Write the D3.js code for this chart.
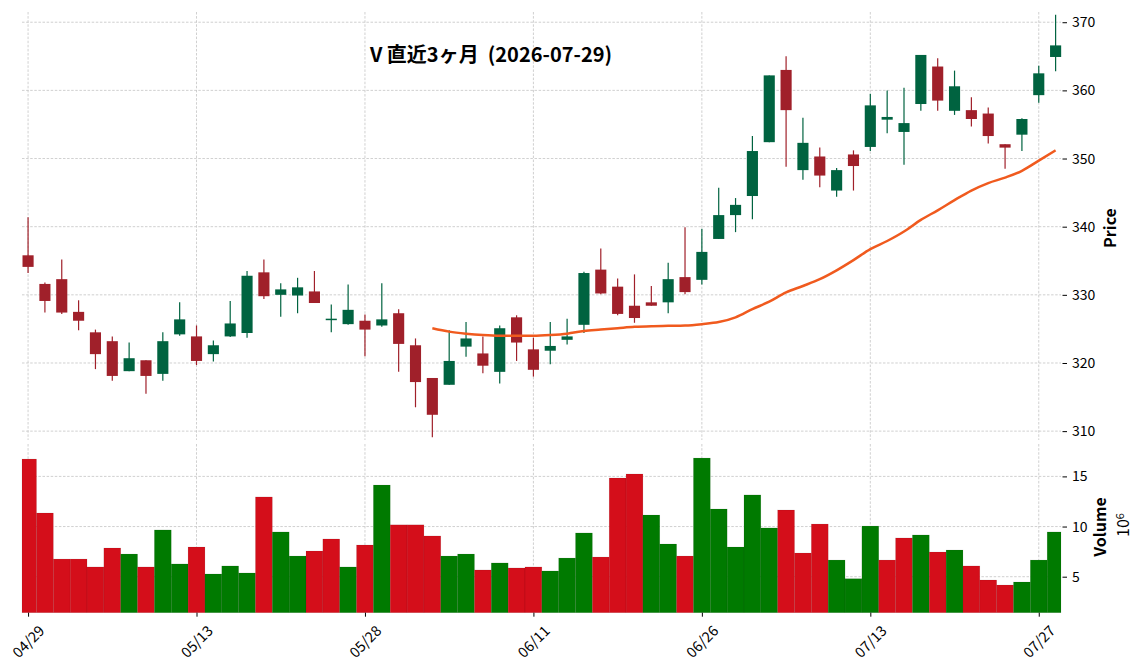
<!DOCTYPE html>
<html>
<head>
<meta charset="utf-8">
<script src="https://cdn.jsdelivr.net/npm/d3@7"></script>
<style>
    body { margin: 0; background: #fff; }
    text { font-family: "Noto Sans CJK JP", "Noto Sans", sans-serif; fill: #000; }
    .grid line { stroke: #c4c4c4; stroke-width: 0.8; stroke-dasharray: 2.5, 1.6; }
    .axis path.domain { display: none; }
    .axis line { stroke: #000; stroke-width: 1; }
    .title { white-space: pre; }
</style>
</head>
<body>
<div class="container"></div>
<script>
// trading days shown on the chart
var dates = ["04/29", "04/30", "05/01", "05/04", "05/05", "05/06", "05/07", "05/08", "05/11", "05/12",
    "05/13", "05/14", "05/15", "05/18", "05/19", "05/20", "05/21", "05/22", "05/26", "05/27",
    "05/28", "05/29", "06/01", "06/02", "06/03", "06/04", "06/05", "06/08", "06/09", "06/10",
    "06/11", "06/12", "06/15", "06/16", "06/17", "06/18", "06/22", "06/23", "06/24", "06/25",
    "06/26", "06/29", "06/30", "07/01", "07/02", "07/06", "07/07", "07/08", "07/09", "07/10",
    "07/13", "07/14", "07/15", "07/16", "07/17", "07/20", "07/21", "07/22", "07/23", "07/24",
    "07/27", "07/28"];

var opens = [335.8, 331.6, 332.3, 327.5, 324.5, 323.2, 318.8, 320.4, 318.4, 324.2,
    323.9, 321.3, 323.9, 324.4, 333.3, 330.0, 329.9, 330.5, 326.4, 325.7,
    326.2, 325.5, 327.3, 322.6, 317.8, 316.8, 322.4, 321.4, 318.7, 326.7,
    322.0, 321.8, 323.4, 325.6, 333.7, 331.2, 328.4, 328.9, 328.9, 332.6,
    332.2, 338.2, 341.7, 344.5, 352.4, 363.0, 348.3, 350.3, 345.3, 350.6,
    351.7, 355.7, 353.9, 358.0, 363.5, 357.0, 357.1, 356.6, 352.1, 353.5,
    359.3, 364.9];
var highs = [341.4, 331.8, 335.2, 329.2, 324.9, 323.9, 323.0, 320.4, 324.5, 328.9,
    325.5, 323.3, 329.1, 333.5, 335.2, 331.7, 332.5, 333.5, 328.6, 331.5,
    327.1, 331.7, 327.9, 323.6, 317.8, 324.8, 326.0, 323.9, 325.5, 327.0,
    323.7, 326.0, 326.5, 333.4, 336.8, 332.4, 333.0, 331.3, 334.7, 339.9,
    339.7, 345.7, 344.2, 353.3, 362.2, 365.0, 356.0, 351.6, 348.6, 351.2,
    359.5, 360.0, 360.4, 365.2, 364.7, 362.9, 359.0, 357.5, 352.1, 355.9,
    363.6, 371.1];
var lows = [333.2, 327.4, 327.2, 324.8, 319.1, 317.4, 318.8, 315.5, 317.4, 324.0,
    319.7, 320.2, 323.8, 323.7, 329.4, 326.8, 327.3, 328.8, 324.5, 325.6,
    321.0, 325.3, 318.7, 313.5, 309.1, 316.8, 320.9, 318.5, 317.0, 320.3,
    318.0, 319.8, 322.7, 324.4, 330.1, 327.0, 325.9, 328.4, 327.3, 330.1,
    331.5, 338.2, 339.2, 341.1, 352.4, 348.8, 346.9, 345.8, 344.4, 345.3,
    351.1, 353.7, 349.1, 357.0, 357.0, 356.4, 354.7, 352.2, 348.5, 351.1,
    358.2, 362.8];
var closes = [334.1, 329.1, 327.4, 326.2, 321.3, 318.1, 320.7, 318.1, 323.2, 326.4,
    320.3, 322.6, 325.8, 332.8, 329.8, 330.8, 331.1, 328.8, 326.5, 327.8,
    324.9, 326.4, 322.8, 317.2, 312.4, 320.3, 323.6, 319.6, 325.1, 323.0,
    319.0, 322.5, 323.9, 333.2, 330.2, 327.2, 326.6, 328.4, 332.3, 330.4,
    336.3, 341.7, 343.2, 351.1, 362.2, 357.1, 352.3, 347.5, 348.3, 348.9,
    357.8, 356.1, 355.2, 365.2, 358.5, 360.6, 355.8, 353.3, 351.6, 355.8,
    362.5, 366.6];
// volume in millions
var volumes = [16.73, 11.35, 6.76, 6.76, 5.97, 7.86, 7.26, 5.97, 9.66, 6.27,
    7.96, 5.27, 6.07, 5.37, 12.95, 9.46, 7.06, 7.56, 8.76, 5.97,
    8.16, 14.14, 10.17, 10.17, 9.06, 7.06, 7.26, 5.67, 6.37, 5.87,
    5.97, 5.57, 6.86, 9.36, 6.96, 14.84, 15.24, 11.15, 8.26, 7.06,
    16.83, 11.75, 7.96, 13.15, 9.86, 11.65, 7.36, 10.25, 6.66, 4.80,
    10.05, 6.66, 8.86, 9.16, 7.46, 7.66, 6.07, 4.67, 4.17, 4.47,
    6.66, 9.46];
// 25 day moving average as drawn (starts at the 25th bar)
var ma25 = [null, null, null, null, null, null, null, null, null, null,
    null, null, null, null, null, null, null, null, null, null,
    null, null, null, null, 325.1, 324.6, 324.3, 324.1, 324.0, 324.0,
    324.0, 324.1, 324.3, 324.7, 324.9, 325.1, 325.3, 325.4, 325.45, 325.5,
    325.7, 326.0, 326.7, 327.9, 329.0, 330.35, 331.3, 332.3, 333.6, 335.1,
    336.7, 337.9, 339.3, 341.0, 342.4, 343.9, 345.3, 346.4, 347.2, 348.2,
    349.7, 351.2];

var priceTicks = [310, 320, 330, 340, 350, 360, 370];
var volumeTicks = [5, 10, 15];
var dateTicks = [0, 10, 20, 30, 40, 50, 60];

var title = "V 直近3ヶ月  (2026-07-29)";

function drawChart() {
    var width = 1144, height = 670;
    var left = 22, right = 1061;
    var priceTop = 12, priceBottom = 440;
    var volTop = 444, volBottom = 612.7;

    var upCandle = "#006340", downCandle = "#a0202a";
    var upVol = "#007a00", downVol = "#d40e1a";

    var svg = d3.select(".container").append("svg")
        .attr("width", width)
        .attr("height", height);

    var x = d3.scaleLinear().domain([-0.36, 61.32]).range([left, right]);
    var step = x(1) - x(0);

    var y = d3.scaleLinear().domain([308.7, 371.5]).range([priceBottom, priceTop]);
    var yVol = d3.scaleLinear().domain([1.41, 18.23]).range([volBottom, volTop]);

    // grid lines
    var grid = svg.append("g").attr("class", "grid");
    grid.selectAll(".hp").data(priceTicks).enter().append("line")
        .attr("x1", left).attr("x2", right)
        .attr("y1", function (d) { return y(d); })
        .attr("y2", function (d) { return y(d); });
    grid.selectAll(".hv").data(volumeTicks).enter().append("line")
        .attr("x1", left).attr("x2", right)
        .attr("y1", function (d) { return yVol(d); })
        .attr("y2", function (d) { return yVol(d); });
    grid.selectAll(".vp").data(dateTicks).enter().append("line")
        .attr("x1", function (d) { return x(d); })
        .attr("x2", function (d) { return x(d); })
        .attr("y1", priceTop).attr("y2", priceBottom);
    grid.selectAll(".vv").data(dateTicks).enter().append("line")
        .attr("x1", function (d) { return x(d); })
        .attr("x2", function (d) { return x(d); })
        .attr("y1", volTop).attr("y2", volBottom);

    // volume bars, coloured by close versus previous close
    svg.append("g")
        .selectAll("rect")
        .data(volumes)
        .enter()
        .append("rect")
        .attr("x", function (d, i) { return Math.max(left, x(i) - step / 2); })
        .attr("width", function (d, i) {
            var x0 = Math.max(left, x(i) - step / 2), x1 = Math.min(right, x(i) + step / 2);
            return x1 - x0;
        })
        .attr("y", function (d) { return yVol(d); })
        .attr("height", function (d) { return volBottom - yVol(d); })
        .attr("fill", function (d, i) {
            var up = i == 0 ? closes[i] >= opens[i] : closes[i] >= closes[i - 1];
            return up ? upVol : downVol;
        })
        .attr("stroke", "rgba(0,0,0,0.12)")
        .attr("stroke-width", 0.6);

    // candles
    var candles = svg.append("g")
        .selectAll("g")
        .data(closes)
        .enter()
        .append("g")
        .attr("fill", function (d, i) { return d >= opens[i] ? upCandle : downCandle; })
        .attr("stroke", function (d, i) { return d >= opens[i] ? upCandle : downCandle; });

    candles.append("line")
        .attr("x1", function (d, i) { return x(i); })
        .attr("x2", function (d, i) { return x(i); })
        .attr("y1", function (d, i) { return y(highs[i]); })
        .attr("y2", function (d, i) { return y(lows[i]); })
        .attr("stroke-width", 1.2);

    var bodyW = step * 0.66;
    candles.append("rect")
        .attr("x", function (d, i) { return x(i) - bodyW / 2; })
        .attr("width", bodyW)
        .attr("y", function (d, i) { return y(Math.max(d, opens[i])); })
        .attr("height", function (d, i) {
            return Math.max(1.5, Math.abs(y(d) - y(opens[i])));
        })
        .attr("stroke", "none");

    // moving average
    var maLine = d3.line()
        .defined(function (d) { return d != null; })
        .x(function (d, i) { return x(i); })
        .y(function (d) { return y(d); })
        .curve(d3.curveMonotoneX);

    svg.append("path")
        .datum(ma25)
        .attr("fill", "none")
        .attr("stroke", "#f05a1e")
        .attr("stroke-width", 2.5)
        .attr("d", maLine);

    // axes
    svg.append("g")
        .attr("class", "axis")
        .attr("transform", "translate(1062.5,0)")
        .call(d3.axisRight(y).tickValues(priceTicks).tickSize(4.5).tickPadding(5))
        .selectAll("text").attr("font-size", "14px");

    svg.append("g")
        .attr("class", "axis")
        .attr("transform", "translate(1062.5,0)")
        .call(d3.axisRight(yVol).tickValues(volumeTicks).tickSize(4.5).tickPadding(5))
        .selectAll("text").attr("font-size", "14px");

    svg.append("g")
        .attr("class", "axis")
        .attr("transform", "translate(0," + volBottom + ")")
        .call(d3.axisBottom(x).tickValues(dateTicks).tickSize(4)
            .tickFormat(function (i) { return dates[i]; }))
        .selectAll("text")
        .attr("font-size", "14.5px")
        .attr("y", 0)
        .attr("dy", "0.35em")
        .attr("text-anchor", "middle")
        .attr("transform", "translate(0,29) rotate(-45)");

    // labels
    svg.append("text")
        .attr("transform", "translate(1116,228) rotate(-90)")
        .attr("text-anchor", "middle")
        .attr("font-size", "16px")
        .attr("font-weight", "bold")
        .text("Price");

    svg.append("text")
        .attr("transform", "translate(1106,527) rotate(-90)")
        .attr("text-anchor", "middle")
        .attr("font-size", "16px")
        .attr("font-weight", "bold")
        .text("Volume");

    var exp = svg.append("text")
        .attr("transform", "translate(1129,525) rotate(-90)")
        .attr("text-anchor", "middle")
        .attr("font-size", "16px");
    exp.append("tspan").text("10");
    exp.append("tspan").attr("dy", "-0.5em").attr("font-size", "11px").text("6");

    svg.append("text")
        .attr("class", "title")
        .attr("x", 491)
        .attr("y", 55)
        .attr("dy", "0.35em")
        .attr("text-anchor", "middle")
        .attr("font-size", "20px")
        .attr("font-weight", "bold")
        .text(title);
}

drawChart();
</script>
</body>
</html>
